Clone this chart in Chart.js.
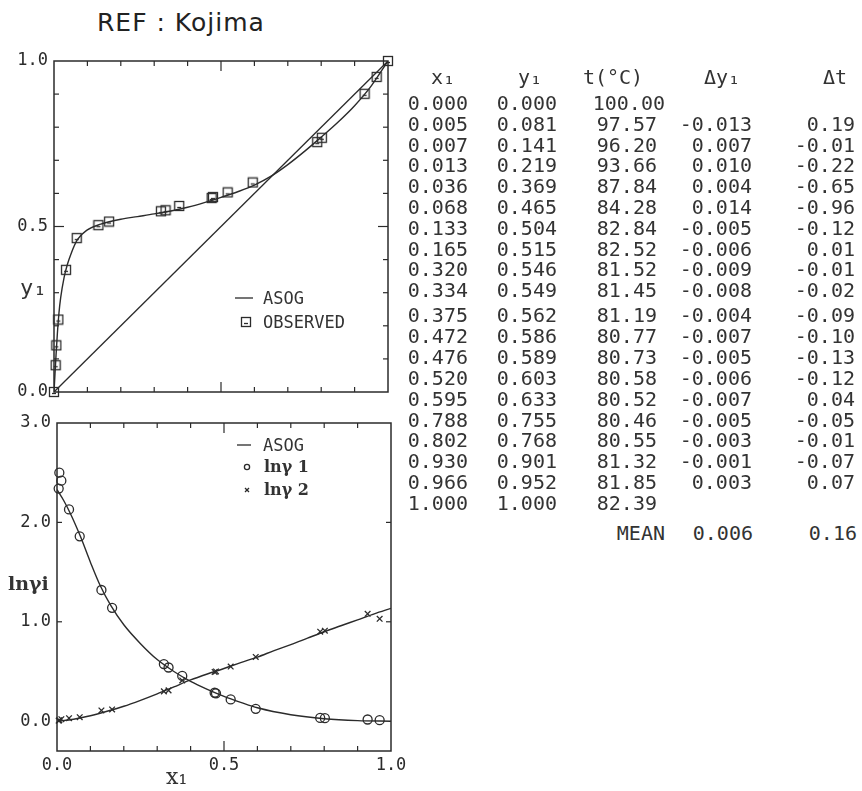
<!DOCTYPE html>
<html><head><meta charset="utf-8">
<script src="https://cdn.jsdelivr.net/npm/chart.js@4.4.1/dist/chart.umd.min.js"></script>
<style>
html,body{margin:0;padding:0;background:#fff;}
#page{position:relative;width:862px;height:791px;overflow:hidden;background:#fff;}
canvas{position:absolute;}
.t{position:absolute;font-family:"DejaVu Sans Mono",monospace;color:#333;white-space:pre;}
.cell{font-size:20px;line-height:20px;height:20px;width:200px;text-align:right;}
.lg{font-size:17px;line-height:18px;height:18px;}
.hw{font-family:"DejaVu Serif",serif;font-weight:bold;color:#333;}
</style></head>
<body><div id="page">
<canvas id="top" width="420" height="370" style="left:0;top:40px;width:420px;height:370px"></canvas>
<canvas id="bot" width="420" height="381" style="left:0;top:410px;width:420px;height:381px"></canvas>
</div>
<script>
// ---------- data ----------
const x1   = [0.000,0.005,0.007,0.013,0.036,0.068,0.133,0.165,0.320,0.334,0.375,0.472,0.476,0.520,0.595,0.788,0.802,0.930,0.966,1.000];
const y1   = [0.000,0.081,0.141,0.219,0.369,0.465,0.504,0.515,0.546,0.549,0.562,0.586,0.589,0.603,0.633,0.755,0.768,0.901,0.952,1.000];
const tC   = [100.00,97.57,96.20,93.66,87.84,84.28,82.84,82.52,81.52,81.45,81.19,80.77,80.73,80.58,80.52,80.46,80.55,81.32,81.85,82.39];
const dY1  = [null,-0.013,0.007,0.010,0.004,0.014,-0.005,-0.006,-0.009,-0.008,-0.004,-0.007,-0.005,-0.006,-0.007,-0.005,-0.003,-0.001,0.003,null];
const dT   = [null,0.19,-0.01,-0.22,-0.65,-0.96,-0.12,0.01,-0.01,-0.02,-0.09,-0.10,-0.13,-0.12,0.04,-0.05,-0.01,-0.07,0.07,null];
const meanDY1 = 0.006, meanDT = 0.16;

// ASOG y1-x1 curve
const asogX  = [0,0.003,0.006,0.01,0.015,0.02,0.03,0.04,0.05,0.07,0.1,0.14,0.2,0.25,0.3,0.35,0.4,0.45,0.5,0.55,0.6,0.65,0.7,0.75,0.8,0.85,0.9,0.95,1.0];
const asogY1 = [0,0.055,0.11,0.175,0.24,0.285,0.345,0.385,0.415,0.46,0.49,0.507,0.522,0.53,0.538,0.547,0.558,0.572,0.588,0.605,0.625,0.652,0.687,0.727,0.77,0.815,0.865,0.925,1.0];
const diagX = [0,1], diagY = [0,1];

// observed ln gamma (points at table x1, excluding pure ends)
const obsX   = [0.005,0.007,0.013,0.036,0.068,0.133,0.165,0.320,0.334,0.375,0.472,0.476,0.520,0.595,0.788,0.802,0.930,0.966];
const lnG1   = [2.34,2.50,2.42,2.13,1.86,1.32,1.14,0.575,0.54,0.455,0.286,0.28,0.219,0.124,0.033,0.03,0.017,0.01];
const lnG2   = [0.005,0.01,0.02,0.03,0.04,0.108,0.118,0.30,0.31,0.41,0.495,0.50,0.55,0.646,0.90,0.91,1.08,1.03];

// ASOG ln gamma curves
const cX1    = [0,0.02,0.04,0.07,0.1,0.13,0.16,0.2,0.25,0.3,0.35,0.4,0.45,0.5,0.55,0.6,0.7,0.8,0.9,1.0];
const cLnG1  = [2.33,2.22,2.09,1.86,1.6,1.36,1.17,0.97,0.78,0.62,0.5,0.4,0.32,0.25,0.19,0.135,0.065,0.025,0.006,0];
const cX2    = [0,0.05,0.1,0.15,0.2,0.25,0.3,0.35,0.4,0.45,0.5,0.55,0.6,0.65,0.7,0.75,0.8,0.85,0.9,0.95,1.0];
const cLnG2  = [0,0.02,0.055,0.1,0.15,0.21,0.275,0.345,0.415,0.475,0.53,0.59,0.645,0.71,0.77,0.835,0.9,0.96,1.02,1.08,1.135];

// tick values
const yTicksTop = [0,0.5,1.0];
const xTicks    = [0,0.5,1.0];
const yTicksBot = [0,1,2,3];
const minorX    = [0.1,0.2,0.3,0.4,0.5,0.6,0.7,0.8,0.9];
const minorYTop = [0.1,0.2,0.3,0.4,0.5,0.6,0.7,0.8,0.9];
const minorYBot = [1,2];

// ---------- rendering ----------
const INK = '#2b2b2b';
const FONT = '"DejaVu Sans Mono", monospace';
const page = document.getElementById('page');

function txt(cls, text, left, top, extra) {
  const d = document.createElement('div');
  d.className = 't ' + cls;
  d.textContent = text;
  d.style.left = left + 'px';
  d.style.top = top + 'px';
  if (extra) Object.assign(d.style, extra);
  page.appendChild(d);
  return d;
}

// title
txt('', 'REF : Kojima', 97, 8, {fontFamily:'"DejaVu Sans", sans-serif', fontSize:'25px', color:'#222', letterSpacing:'1px'});

// table
const hdrY = 77;
const headers = [['x\u2081',443],['y\u2081',530],['t(\u00B0C)',613],['\u0394y\u2081',722],['\u0394t',835]];
headers.forEach(([s,c]) => txt('cell', s, c-100, hdrY-10, {textAlign:'center'}));
const rights = [468,557,657,752,855];
for (let i = 0; i < x1.length; i++) {
  const cy = i < 10 ? 103 + 20.8*i : 315 + 20.9*(i-10);
  const vals = [x1[i].toFixed(3), y1[i].toFixed(3), tC[i].toFixed(2),
                dY1[i]===null?'':dY1[i].toFixed(3), dT[i]===null?'':dT[i].toFixed(2)];
  vals.forEach((v,k) => {
    let r = rights[k];
    if (k===2 && v.length===6) r = 665;
    txt('cell', v, r-200, cy-10);
  });
}
txt('cell','MEAN',665-200,533-10);
txt('cell',meanDY1.toFixed(3),753-200,533-10);
txt('cell',meanDT.toFixed(2),857-200,533-10);

// axis titles
txt('', 'y\u2081', 20, 275, {fontSize:'22px'});
txt('', 'x\u2081', 166, 764, {fontFamily:'"DejaVu Serif", serif', fontSize:'22px'});
txt('hw', 'ln\u03B3i', 8, 572, {fontSize:'19px'});

// legends text
txt('lg', 'ASOG', 263, 289);
txt('lg', 'OBSERVED', 263, 313);
txt('lg', 'ASOG', 263, 436);
txt('lg hw', 'ln\u03B3 1', 264, 458, {fontSize:'16px'});
txt('lg hw', 'ln\u03B3 2', 264, 481, {fontSize:'16px'});

// square marker
const sq = document.createElement('canvas');
sq.width = 12; sq.height = 12;
(function(){const c = sq.getContext('2d'); c.strokeStyle = INK; c.lineWidth = 1.3;
  c.strokeRect(1.5,1.5,9,9); c.beginPath(); c.moveTo(4,7.5); c.lineTo(8,7.5); c.stroke();})();

function line(ctx,a,b,c,d){ctx.beginPath();ctx.moveTo(a,b);ctx.lineTo(c,d);ctx.stroke();}

function framePlugin(cfg) {
  return {
    id: 'frame',
    afterDatasetsDraw(chart) {
      const {ctx, chartArea:a, scales:{x, y}} = chart;
      ctx.save();
      ctx.strokeStyle = INK;
      ctx.lineWidth = 1.5;
      ctx.strokeRect(a.left, a.top, a.right - a.left, a.bottom - a.top);
      ctx.lineWidth = 1.2;
      cfg.mx.forEach(v => {
        const p = x.getPixelForValue(v), L = Math.abs(v-0.5)<1e-9 ? 10 : 5;
        line(ctx,p,a.top,p,a.top+L); line(ctx,p,a.bottom,p,a.bottom-L);
      });
      cfg.my.forEach(v => {
        const p = y.getPixelForValue(v), L = cfg.yMajor(v) ? 10 : 5;
        line(ctx,a.left,p,a.left+L,p); line(ctx,a.right,p,a.right-L,p);
      });
      cfg.legend(ctx);
      ctx.restore();
    }
  };
}

function baseScales(yMin, yMax, yTicks, yWidth, xLabels, xHeight) {
  return {
    x: {type:'linear', min:0, max:1,
        grid:{display:false, drawTicks:false}, border:{display:false},
        ticks:{display:xLabels, padding:4, color:INK, font:{family:FONT,size:17}, callback:v=>v.toFixed(1)},
        afterBuildTicks(s){ s.ticks = xTicks.map(v=>({value:v})); },
        afterFit(s){ s.height = xHeight; s.paddingLeft = 0; s.paddingRight = 0; }},
    y: {type:'linear', min:yMin, max:yMax,
        grid:{display:false, drawTicks:false}, border:{display:false},
        ticks:{padding:6, color:INK, font:{family:FONT,size:17}, callback:v=>v.toFixed(1)},
        afterBuildTicks(s){ s.ticks = yTicks.map(v=>({value:v})); },
        afterFit(s){ s.width = yWidth; s.paddingTop = 0; s.paddingBottom = 0; }}
  };
}

const common = {animation:false, responsive:false, devicePixelRatio:1,
  plugins:{legend:{display:false}, tooltip:{enabled:false}}};

// top chart
new Chart(document.getElementById('top'), {
  type:'scatter',
  data:{datasets:[
    {type:'line', data:asogX.map((v,i)=>({x:v,y:asogY1[i]})), borderColor:INK, borderWidth:1.4,
     pointRadius:0, cubicInterpolationMode:'monotone', fill:false},
    {type:'line', data:diagX.map((v,i)=>({x:v,y:diagY[i]})), borderColor:INK, borderWidth:1.3,
     pointRadius:0, fill:false},
    {data:x1.map((v,i)=>({x:v,y:y1[i]})), pointStyle:sq, pointRadius:5, clip:false}
  ]},
  options:Object.assign({}, common, {
    layout:{padding:{left:0, top:21, right:32, bottom:18}},
    scales: baseScales(0, 1, yTicksTop, 54, false, 0)
  }),
  plugins:[framePlugin({mx:minorX, my:minorYTop, yMajor:v=>Math.abs(v-0.5)<1e-9,
    legend(ctx){ ctx.lineWidth=1.3; line(ctx,235,258,253,258); ctx.drawImage(sq,240,276); }})]
});

// bottom chart
new Chart(document.getElementById('bot'), {
  type:'scatter',
  data:{datasets:[
    {type:'line', data:cX1.map((v,i)=>({x:v,y:cLnG1[i]})), borderColor:INK, borderWidth:1.4,
     pointRadius:0, cubicInterpolationMode:'monotone', fill:false},
    {type:'line', data:cX2.map((v,i)=>({x:v,y:cLnG2[i]})), borderColor:INK, borderWidth:1.4,
     pointRadius:0, cubicInterpolationMode:'monotone', fill:false},
    {data:obsX.map((v,i)=>({x:v,y:lnG1[i]})), pointStyle:'circle', pointRadius:4.5,
     borderColor:INK, borderWidth:1.3, backgroundColor:'rgba(0,0,0,0)', clip:false},
    {data:obsX.map((v,i)=>({x:v,y:lnG2[i]})), pointStyle:'crossRot', pointRadius:4,
     borderColor:INK, borderWidth:1.3, clip:false}
  ]},
  options:Object.assign({}, common, {
    layout:{padding:{left:0, top:13, right:29, bottom:10}},
    scales: baseScales(-0.3, 3.0, yTicksBot, 57, true, 30)
  }),
  plugins:[framePlugin({mx:minorX, my:minorYBot, yMajor:()=>false,
    legend(ctx){ ctx.lineWidth=1.3; line(ctx,237,35,251,35);
      ctx.beginPath(); ctx.arc(247,57,2.6,0,Math.PI*2); ctx.stroke();
      line(ctx,245,78,249,82); line(ctx,249,78,245,82); }})]
});
</script>
</body></html>
